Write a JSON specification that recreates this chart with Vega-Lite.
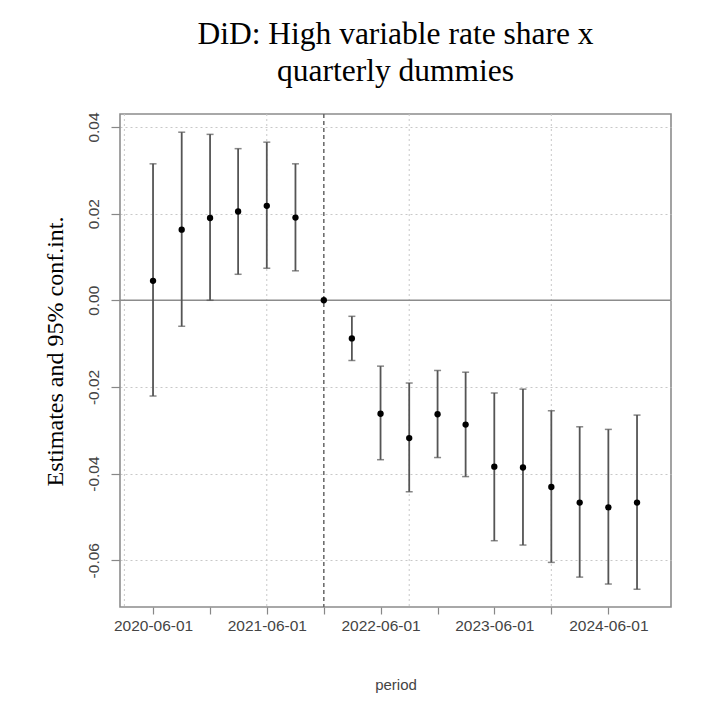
{
  "$schema": "https://vega.github.io/schema/vega-lite/v6.json",
  "width": 551,
  "height": 493,
  "autosize": "none",
  "padding": {"left": 120, "top": 114, "right": 50, "bottom": 107},
  "background": "white",
  "title": {
    "text": ["DiD: High variable rate share x", "quarterly dummies"],
    "font": "Liberation Serif",
    "fontSize": 31.5,
    "fontWeight": "normal",
    "color": "#000",
    "lineHeight": 37,
    "anchor": "middle",
    "offset": 24
  },
  "config": {
    "view": {"stroke": "#8c8c8c", "strokeWidth": 1.6}
  },
  "datasets": {
    "est": [
      {"period": "2020-06-01", "est": 0.0045, "lo": -0.0221, "hi": 0.0315},
      {"period": "2020-09-01", "est": 0.0163, "lo": -0.0060, "hi": 0.0388},
      {"period": "2020-12-01", "est": 0.0190, "lo": 0.0000, "hi": 0.0383},
      {"period": "2021-03-01", "est": 0.0205, "lo": 0.0060, "hi": 0.0350},
      {"period": "2021-06-01", "est": 0.0218, "lo": 0.0074, "hi": 0.0365},
      {"period": "2021-09-01", "est": 0.0191, "lo": 0.0068, "hi": 0.0315},
      {"period": "2021-12-01", "est": 0.0},
      {"period": "2022-03-01", "est": -0.0088, "lo": -0.0139, "hi": -0.0037},
      {"period": "2022-06-01", "est": -0.0262, "lo": -0.0368, "hi": -0.0152},
      {"period": "2022-09-01", "est": -0.0318, "lo": -0.0442, "hi": -0.0191},
      {"period": "2022-12-01", "est": -0.0263, "lo": -0.0363, "hi": -0.0162},
      {"period": "2023-03-01", "est": -0.0287, "lo": -0.0407, "hi": -0.0166},
      {"period": "2023-06-01", "est": -0.0384, "lo": -0.0555, "hi": -0.0214},
      {"period": "2023-09-01", "est": -0.0386, "lo": -0.0565, "hi": -0.0205},
      {"period": "2023-12-01", "est": -0.0431, "lo": -0.0605, "hi": -0.0255},
      {"period": "2024-03-01", "est": -0.0467, "lo": -0.0639, "hi": -0.0292},
      {"period": "2024-06-01", "est": -0.0478, "lo": -0.0655, "hi": -0.0298},
      {"period": "2024-09-01", "est": -0.0467, "lo": -0.0667, "hi": -0.0265}
    ],
    "xgrid": [
      {"period": "2020-03-01"},
      {"period": "2021-06-01"},
      {"period": "2022-09-01"},
      {"period": "2023-12-01"}
    ],
    "ref": [
      {"period": "2021-12-01", "level": 0}
    ]
  },
  "layer": [
    {
      "data": {"name": "xgrid"},
      "mark": {"type": "rule", "color": "#c8c8c8", "strokeDash": [2, 3], "strokeWidth": 1},
      "encoding": {
        "x": {"field": "period", "type": "temporal", "title": "period"}
      }
    },
    {
      "data": {"name": "ref"},
      "mark": {"type": "rule", "color": "#8c8c8c", "strokeWidth": 1.6},
      "encoding": {
        "y": {"field": "level", "type": "quantitative", "title": "Estimates and 95% conf.int."}
      }
    },
    {
      "data": {"name": "ref"},
      "mark": {"type": "rule", "color": "#666", "strokeDash": [4, 3], "strokeWidth": 1.5},
      "encoding": {
        "x": {"field": "period", "type": "temporal", "title": "period"}
      }
    },
    {
      "data": {"name": "est"},
      "mark": {"type": "rule", "color": "#555", "strokeWidth": 1.8},
      "encoding": {
        "x": {"field": "period", "type": "temporal", "title": "period"},
        "y": {"field": "lo", "type": "quantitative", "title": "Estimates and 95% conf.int."},
        "y2": {"field": "hi"}
      }
    },
    {
      "data": {"name": "est"},
      "mark": {"type": "tick", "orient": "horizontal", "color": "#555", "size": 7, "thickness": 1.5},
      "encoding": {
        "x": {"field": "period", "type": "temporal", "title": "period"},
        "y": {"field": "lo", "type": "quantitative", "title": "Estimates and 95% conf.int."}
      }
    },
    {
      "data": {"name": "est"},
      "mark": {"type": "tick", "orient": "horizontal", "color": "#555", "size": 7, "thickness": 1.5},
      "encoding": {
        "x": {"field": "period", "type": "temporal", "title": "period"},
        "y": {"field": "hi", "type": "quantitative", "title": "Estimates and 95% conf.int."}
      }
    },
    {
      "data": {"name": "est"},
      "mark": {"type": "circle", "color": "#000", "size": 40, "opacity": 1},
      "encoding": {
        "x": {
          "field": "period",
          "type": "temporal",
          "title": "period",
          "scale": {
            "type": "utc",
            "domain": [
              {"year": 2020, "month": 2, "date": 16, "utc": true},
              {"year": 2024, "month": 12, "date": 19, "utc": true}
            ],
            "nice": false
          },
          "axis": {
            "values": [
              {"year": 2020, "month": 6, "date": 1, "utc": true},
              {"year": 2020, "month": 9, "date": 1, "utc": true},
              {"year": 2020, "month": 12, "date": 1, "utc": true},
              {"year": 2021, "month": 3, "date": 1, "utc": true},
              {"year": 2021, "month": 6, "date": 1, "utc": true},
              {"year": 2021, "month": 9, "date": 1, "utc": true},
              {"year": 2021, "month": 12, "date": 1, "utc": true},
              {"year": 2022, "month": 3, "date": 1, "utc": true},
              {"year": 2022, "month": 6, "date": 1, "utc": true},
              {"year": 2022, "month": 9, "date": 1, "utc": true},
              {"year": 2022, "month": 12, "date": 1, "utc": true},
              {"year": 2023, "month": 3, "date": 1, "utc": true},
              {"year": 2023, "month": 6, "date": 1, "utc": true},
              {"year": 2023, "month": 9, "date": 1, "utc": true},
              {"year": 2023, "month": 12, "date": 1, "utc": true},
              {"year": 2024, "month": 3, "date": 1, "utc": true},
              {"year": 2024, "month": 6, "date": 1, "utc": true},
              {"year": 2024, "month": 9, "date": 1, "utc": true}
            ],
            "labelExpr": "utcmonth(datum.value) == 5 ? utcFormat(datum.value, '%Y-%m-%d') : ''",
            "labelFont": "Liberation Sans",
            "labelFontSize": 15.5,
            "labelColor": "#444",
            "labelPadding": 4,
            "labelOverlap": false,
            "labelFlush": false,
            "labelBound": false,
            "tickColor": "#888",
            "tickSize": 7,
            "tickWidth": 1.2,
            "domain": false,
            "grid": false,
            "titleFont": "Liberation Sans",
            "titleFontSize": 15,
            "titleFontWeight": "normal",
            "titleColor": "#444",
            "titlePadding": 44
          }
        },
        "y": {
          "field": "est",
          "type": "quantitative",
          "title": "Estimates and 95% conf.int.",
          "scale": {"domain": [-0.0708, 0.043], "nice": false, "zero": false},
          "axis": {
            "values": [-0.06, -0.04, -0.02, 0, 0.02, 0.04],
            "labelExpr": "replace(format(datum.value, '.2f'), '\u2212', '-')",
            "labelAngle": 270,
            "labelAlign": "center",
            "labelBaseline": "alphabetic",
            "labelFont": "Liberation Sans",
            "labelFontSize": 15.5,
            "labelColor": "#444",
            "labelPadding": 13,
            "labelOverlap": false,
            "labelFlush": false,
            "labelBound": false,
            "tickColor": "#888",
            "tickSize": 9,
            "tickWidth": 1.2,
            "domain": false,
            "grid": true,
            "gridColor": "#c8c8c8",
            "gridDash": [2, 3],
            "gridWidth": 1,
            "titleFont": "Liberation Serif",
            "titleFontSize": 24,
            "titleFontWeight": "normal",
            "titleColor": "#000",
            "titleAngle": 270,
            "titleAlign": "center",
            "titleBaseline": "alphabetic",
            "titleX": -58,
            "titleY": 237
          }
        }
      }
    }
  ]
}
